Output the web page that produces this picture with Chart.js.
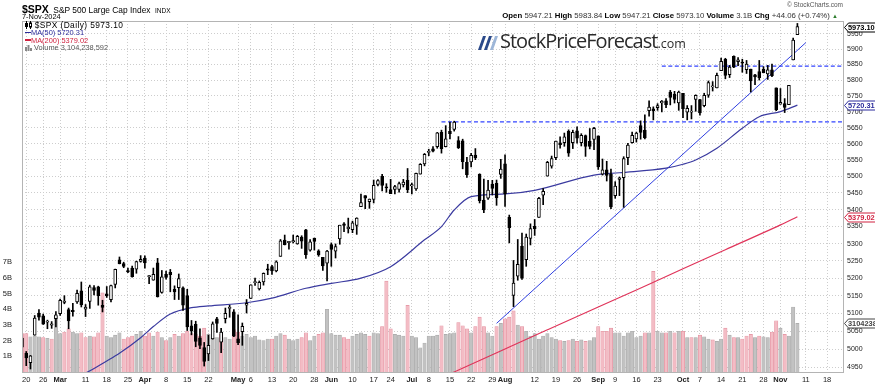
<!DOCTYPE html>
<html>
<head>
<meta charset="utf-8">
<title>$SPX S&amp;P 500 Large Cap Index</title>
<script src="https://cdn.jsdelivr.net/npm/chart.js@4/dist/chart.umd.min.js"></script>
<style>
html,body{margin:0;padding:0;background:#fff;overflow:hidden;}
#wrap{position:relative;width:875px;height:385px;font-family:"Liberation Sans",Arial,sans-serif;color:#000;}
#c{position:absolute;left:0;top:0;}
.t{position:absolute;white-space:nowrap;line-height:1;}
.t b{font-weight:bold;color:#000;}
</style>
</head>
<body>
<div id="wrap">
<canvas id="c" width="875" height="385"></canvas>
<div class="t" style="left:22px;top:0px;"><b style="font-size:10.5px">$SPX</b> <span style="font-size:8.4px">S&amp;P 500 Large Cap Index</span> <span style="font-size:6.5px">INDX</span></div>
<div class="t" style="left:22px;top:12.5px;font-size:7.4px">7-Nov-2024</div>
<div class="t" id="info" style="right:37px;top:11.5px;font-size:7.8px;color:#333"></div>
<div class="t" style="right:32px;top:1.5px;font-size:6.5px;color:#555">&copy; StockCharts.com</div>
<div class="t" id="lg1" style="left:25px;top:21px;font-size:8.4px;letter-spacing:0.4px"></div>
<div class="t" id="lg2" style="left:25px;top:29px;font-size:7.4px;color:#2b2b9b"></div>
<div class="t" id="lg3" style="left:25px;top:36.5px;font-size:7.4px;color:#d0213f"></div>
<div class="t" id="lg4" style="left:25px;top:44px;font-size:7.4px;color:#555"></div>
<div class="t" style="left:478px;top:31px;">
  <svg width="22" height="15" style="position:absolute;left:0;top:5px">
    <polygon points="0,14 3,14 8,0 5,0" fill="#2b4a8a"/>
    <polygon points="6,14 9,14 14,0 11,0" fill="#2b4a8a"/>
    <polygon points="12,14 15,14 20,0 17,0" fill="#9db6d8"/>
  </svg>
  <span style="position:absolute;left:22px;top:0;font-family:'Open Sans',sans-serif;font-size:20px;letter-spacing:-1px;color:#2a2a2a">StockPriceForecast<span style="font-size:12.5px;letter-spacing:0">.com</span></span>
</div>
</div>
<script>
// ---------- DATA ----------
const dates = [
'02-16','02-20','02-21','02-22','02-23','02-26','02-27','02-28','02-29',
'03-01','03-04','03-05','03-06','03-07','03-08','03-11','03-12','03-13','03-14','03-15','03-18','03-19','03-20','03-21','03-22','03-25','03-26','03-27','03-28',
'04-01','04-02','04-03','04-04','04-05','04-08','04-09','04-10','04-11','04-12','04-15','04-16','04-17','04-18','04-19','04-22','04-23','04-24','04-25','04-26','04-29','04-30',
'05-01','05-02','05-03','05-06','05-07','05-08','05-09','05-10','05-13','05-14','05-15','05-16','05-17','05-20','05-21','05-22','05-23','05-24','05-28','05-29','05-30','05-31',
'06-03','06-04','06-05','06-06','06-07','06-10','06-11','06-12','06-13','06-14','06-17','06-18','06-20','06-21','06-24','06-25','06-26','06-27','06-28',
'07-01','07-02','07-03','07-05','07-08','07-09','07-10','07-11','07-12','07-15','07-16','07-17','07-18','07-19','07-22','07-23','07-24','07-25','07-26','07-29','07-30','07-31',
'08-01','08-02','08-05','08-06','08-07','08-08','08-09','08-12','08-13','08-14','08-15','08-16','08-19','08-20','08-21','08-22','08-23','08-26','08-27','08-28','08-29','08-30',
'09-03','09-04','09-05','09-06','09-09','09-10','09-11','09-12','09-13','09-16','09-17','09-18','09-19','09-20','09-23','09-24','09-25','09-26','09-27','09-30',
'10-01','10-02','10-03','10-04','10-07','10-08','10-09','10-10','10-11','10-14','10-15','10-16','10-17','10-18','10-21','10-22','10-23','10-24','10-25','10-28','10-29','10-30','10-31',
'11-01','11-04','11-05','11-06','11-07',
'11-08','11-11','11-12','11-13','11-14','11-15','11-18','11-19','11-20','11-21','11-22'
];
const openP = [
5031,4989,4963,5039,5101,5093,5075,5067,5085,
5099,5131,5111,5108,5132,5164,5112,5134,5173,5175,5123,5155,5139,5182,5253,5242,5220,5229,5226,5248,
5258,5204,5194,5244,5159,5211,5217,5168,5173,5172,5150,5065,5069,5032,5005,4987,5029,5085,5020,5085,5114,5104,
5029,5049,5123,5142,5187,5169,5189,5225,5233,5221,5263,5310,5303,5305,5299,5319,5340,5281,5316,5279,5260,5243,
5297,5278,5314,5358,5344,5341,5353,5409,5442,5424,5431,5476,5500,5467,5460,5461,5461,5474,5488,
5471,5462,5507,5538,5573,5584,5591,5635,5591,5638,5644,5610,5609,5543,5544,5565,5506,5429,5434,5477,5479,5506,
5538,5377,5151,5206,5293,5253,5315,5351,5377,5443,5501,5531,5557,5603,5603,5638,5603,5640,5603,5625,5607,5613,
5624,5507,5520,5507,5442,5491,5496,5557,5603,5615,5656,5642,5703,5709,5712,5727,5734,5762,5755,5727,
5758,5698,5698,5738,5738,5719,5752,5778,5775,5830,5867,5817,5876,5859,5858,5833,5835,5817,5827,5834,5820,5833,5775,
5723,5725,5722,5865,5947.21
];
const highP = [
5039,4994,4983,5094,5111,5098,5081,5077,5105,
5140,5150,5115,5128,5166,5189,5125,5180,5179,5177,5137,5176,5180,5226,5261,5246,5229,5235,5249,5265,
5264,5208,5229,5257,5222,5220,5225,5178,5212,5175,5168,5080,5078,5057,5019,5039,5076,5089,5058,5115,5123,5111,
5096,5073,5139,5181,5200,5192,5215,5240,5237,5250,5312,5325,5305,5325,5324,5323,5342,5312,5316,5282,5260,5280,
5302,5299,5354,5362,5375,5366,5376,5447,5442,5432,5489,5490,5506,5478,5491,5473,5483,5491,5524,
5480,5510,5539,5570,5583,5591,5635,5642,5656,5667,5670,5622,5614,5558,5570,5585,5508,5492,5488,5488,5489,5552,
5566,5384,5251,5312,5331,5328,5358,5371,5437,5463,5546,5562,5608,5621,5633,5643,5642,5652,5631,5627,5647,5651,
5624,5553,5546,5522,5484,5498,5560,5601,5636,5636,5671,5690,5734,5715,5725,5735,5741,5767,5764,5765,
5758,5719,5719,5753,5739,5758,5797,5795,5822,5871,5870,5847,5878,5872,5867,5863,5835,5818,5863,5843,5847,5851,5775,
5773,5741,5783,5936,5983.84
];
const lowP = [
4999,4955,4946,5039,5081,5069,5057,5058,5062,
5094,5127,5057,5092,5128,5118,5091,5114,5152,5123,5104,5145,5132,5172,5241,5230,5216,5203,5214,5246,
5229,5184,5194,5146,5157,5197,5161,5139,5139,5108,5052,5040,5007,5002,4954,4969,5028,5047,4991,5073,5089,5035,
5013,5011,5101,5142,5179,5166,5180,5210,5211,5218,5263,5296,5284,5302,5298,5286,5257,5278,5281,5263,5222,5192,
5234,5258,5298,5335,5331,5332,5327,5409,5403,5404,5420,5471,5456,5452,5448,5447,5452,5468,5451,
5447,5458,5507,5532,5563,5575,5586,5571,5590,5615,5639,5585,5523,5497,5529,5551,5420,5391,5431,5444,5413,5494,
5410,5302,5119,5194,5196,5234,5296,5324,5377,5415,5501,5525,5551,5586,5592,5561,5585,5602,5593,5561,5584,5582,
5521,5504,5486,5403,5434,5442,5407,5536,5602,5605,5614,5615,5686,5674,5704,5699,5712,5721,5727,5704,
5681,5674,5677,5701,5689,5715,5745,5765,5775,5830,5804,5808,5840,5846,5825,5821,5762,5785,5800,5823,5802,5811,5703,
5723,5697,5722,5865,5947.21
];
const closeP = [
5006,4976,4982,5087,5089,5070,5078,5070,5096,
5137,5131,5079,5105,5157,5124,5118,5175,5165,5150,5117,5149,5179,5225,5242,5234,5218,5204,5248,5254,
5244,5206,5211,5147,5204,5202,5210,5161,5199,5123,5062,5051,5022,5011,4967,5011,5071,5072,5048,5100,5116,5036,
5018,5064,5128,5181,5188,5188,5214,5223,5221,5247,5308,5297,5303,5308,5321,5307,5268,5305,5306,5267,5235,5278,
5283,5291,5354,5353,5347,5361,5375,5421,5434,5432,5473,5487,5473,5465,5448,5469,5478,5483,5460,
5475,5509,5537,5567,5573,5577,5634,5585,5615,5631,5667,5588,5545,5505,5564,5556,5427,5399,5459,5464,5436,5522,
5447,5347,5186,5240,5200,5319,5344,5344,5434,5455,5543,5554,5608,5597,5621,5571,5635,5617,5626,5592,5592,5648,
5529,5520,5503,5408,5471,5496,5554,5596,5626,5633,5635,5618,5714,5703,5719,5733,5722,5745,5738,5762,
5709,5710,5700,5751,5696,5751,5792,5780,5815,5860,5815,5842,5841,5865,5854,5851,5797,5810,5808,5824,5833,5814,5705,
5729,5713,5783,5929.04,5973.10
];
const prevCloseBefore = 5030;   // close of the session before the first bar
// volume, billions of shares
const volumeB = [
2.45,2.45,2.25,2.3,2.25,2.2,2.15,2.1,3.55,
2.45,2.55,2.75,2.55,2.45,2.5,2.2,2.3,2.25,2.5,5.05,2.3,2.2,2.35,2.5,2.1,2.2,2.3,2.4,2.6,
2.3,2.5,2.3,2.55,2.2,2.0,2.2,2.4,2.3,2.45,2.6,2.45,2.4,2.3,2.8,2.4,2.2,2.2,2.4,2.2,2.1,2.7,
2.55,2.3,2.4,2.2,2.3,2.05,2.0,2.1,2.1,2.3,2.45,2.35,2.1,2.0,2.1,2.2,2.5,2.0,2.3,2.4,2.5,4.0,
2.45,2.35,2.35,2.2,2.1,2.3,2.4,2.5,2.4,2.3,2.5,2.45,2.9,5.8,2.75,2.4,2.35,2.3,4.25,
2.3,2.2,1.55,1.85,2.3,2.3,2.35,2.95,2.4,2.45,2.5,3.15,2.95,2.75,2.5,2.9,3.5,2.9,2.5,2.3,2.9,3.1,
3.4,3.5,3.9,3.0,2.9,2.6,2.3,2.45,2.1,2.3,2.45,2.2,2.1,2.0,1.95,2.0,2.1,1.95,2.05,1.95,2.0,2.2,
2.9,2.6,2.6,2.8,2.5,2.5,2.3,2.5,2.6,2.2,2.3,2.5,2.5,6.42,2.6,2.5,2.5,2.6,2.5,2.6,
2.6,2.2,2.2,2.2,2.35,2.25,2.1,2.05,1.95,2.1,2.8,2.35,2.2,2.2,2.1,2.3,2.4,2.2,2.3,2.25,2.2,2.55,3.27,
2.8,2.4,2.3,4.15,3.104238592
];
const lastVolume = 3104238592;
const ma50Dates = ['02-16','02-26','03-04','03-11','03-18','03-21','03-28','04-03','04-09','04-16','04-22','05-03','05-13','05-23','06-03','06-12','06-24','07-05','07-11','07-16','07-22','08-01','08-12','08-30','09-10','09-25','10-01','10-04','10-11','10-21','10-25','11-01','11-07'];
const ma50Vals  = [4855,4890,4915,4935,4968,4989,5032,5063,5098,5116,5121,5130,5143,5171,5185,5200,5233,5311,5350,5399,5439,5447,5458,5504,5511,5525,5537,5550,5586,5648,5684,5700,5720.31];
const ma200Dates = ['07-01','07-16','08-01','08-15','09-03','09-16','10-01','10-15','11-01','11-07'];
const ma200Vals  = [4887,4938,5001,5054,5118,5166,5227,5282,5355,5379.02];
const trendDates = ['07-30','11-11'];
const trendVals  = [5072,5921];
const levelLowDates = ['07-11','11-22'];
const levelLowVals  = [5668,5668];
const levelHighDates = ['09-24','11-22'];
const levelHighVals  = [5845,5845];
const priceTicks = [4950,5000,5050,5100,5150,5200,5250,5300,5350,5400,5450,5500,5550,5600,5650,5700,5750,5800,5850,5900,5950];
const volumeTicks = [1,2,3,4,5,6,7];
const tickDates = ['02-20','02-26','03-01','03-11','03-18','03-25','04-01','04-08','04-15','04-22','05-01','05-06','05-13','05-20','05-28','06-03','06-10','06-17','06-24','07-01','07-08','07-15','07-22','07-29','08-01','08-12','08-19','08-26','09-03','09-09','09-16','09-23','10-01','10-07','10-14','10-21','10-28','11-01','11-11','11-18'];
const tickTexts = ['20','26','Mar','11','18','25','Apr','8','15','22','May','6','13','20','28','Jun','10','17','24','Jul','8','15','22','29','Aug','12','19','26','Sep','9','16','23','Oct','7','14','21','28','Nov','11','18'];

// ---------- BUILD ----------
const n = closeP.length, last = n - 1;
const bodies = closeP.map((c,i)=>[openP[i], c]);
const wicks = closeP.map((c,i)=>[lowP[i], highP[i]]);
const bodyFill = closeP.map((c,i)=> c >= openP[i] ? '#ffffff' : '#000000');
const volFill = closeP.map((c,i)=> c < (i ? closeP[i-1] : prevCloseBefore) ? '#f3bcc5' : '#c2c2c2');
const volEdge = closeP.map((c,i)=> c < (i ? closeP[i-1] : prevCloseBefore) ? '#e3909e' : '#a9a9a9');
const pts = (ds, vs) => ds.map((d,i)=>({x:d, y:vs[i]}));

const fmt = v => v.toFixed(2);
const chg = closeP[last] - closeP[last-1];
document.getElementById('info').innerHTML =
  '<b>Open</b> '+fmt(openP[last])+' <b>High</b> '+fmt(highP[last])+' <b>Low</b> '+fmt(lowP[last])+
  ' <b>Close</b> '+fmt(closeP[last])+' <b>Volume</b> '+(volumeB[last]).toFixed(1)+'B <b>Chg</b> +'+fmt(chg)+
  ' (+'+(chg/closeP[last-1]*100).toFixed(2)+'%) <span style="color:#2d7d2d;font-size:6px">&#9650;</span>';
document.getElementById('lg1').innerHTML =
  '<svg width="7" height="8" style="vertical-align:-1px"><line x1="1.5" y1="0" x2="1.5" y2="8" stroke="#000"/><rect x="0" y="2" width="3" height="4" fill="#000"/><line x1="5.5" y1="0" x2="5.5" y2="8" stroke="#000"/><rect x="4.5" y="2" width="2" height="4" fill="#fff" stroke="#000" stroke-width="1"/></svg> $SPX (Daily) '+fmt(closeP[last]);
document.getElementById('lg2').innerHTML = '<span style="display:inline-block;width:6px;height:1.5px;background:#2b2b9b;vertical-align:2px"></span>MA(50) '+fmt(ma50Vals[ma50Vals.length-1]);
document.getElementById('lg3').innerHTML = '<span style="display:inline-block;width:6px;height:1.5px;background:#d0213f;vertical-align:2px"></span>MA(200) '+fmt(ma200Vals[ma200Vals.length-1]);
document.getElementById('lg4').innerHTML = '<svg width="7" height="7" style="vertical-align:-1px"><rect x="0" y="3" width="2" height="4" fill="#888"/><rect x="2.5" y="1" width="2" height="6" fill="#888"/><rect x="5" y="4" width="2" height="3" fill="#888"/></svg> Volume '+lastVolume.toLocaleString('en-US');

const tagPlugin = {
  id: 'tags',
  afterDraw(chart) {
    const ctx = chart.ctx, a = chart.chartArea;
    ctx.save();
    ctx.strokeStyle = '#b4b4b4'; ctx.lineWidth = 1;
    ctx.strokeRect(a.left + 0.5, a.top + 0.5, a.right - a.left - 1, a.bottom - a.top);
    const tag = (yc, text, col) => {
      const x0 = a.right + 0.5, h = 9, w = 31;
      ctx.beginPath();
      ctx.moveTo(x0, yc); ctx.lineTo(x0 + 4, yc - h/2); ctx.lineTo(x0 + w, yc - h/2);
      ctx.lineTo(x0 + w, yc + h/2); ctx.lineTo(x0 + 4, yc + h/2); ctx.closePath();
      ctx.fillStyle = '#fff'; ctx.fill(); ctx.strokeStyle = col; ctx.lineWidth = 1; ctx.stroke();
      ctx.fillStyle = col; ctx.font = 'bold 7.4px "Liberation Sans", Arial'; ctx.textBaseline = 'middle'; ctx.textAlign = 'left';
      ctx.fillText(text, x0 + 3.5, yc + 0.5);
    };
    const y = chart.scales.y, v = chart.scales.v;
    tag(Math.round(y.getPixelForValue(closeP[last])) + 0.5, fmt(closeP[last]), '#000');
    tag(Math.round(y.getPixelForValue(ma50Vals[ma50Vals.length-1])) + 0.5, fmt(ma50Vals[ma50Vals.length-1]), '#2b2b9b');
    tag(Math.round(y.getPixelForValue(ma200Vals[ma200Vals.length-1])) + 0.5, fmt(ma200Vals[ma200Vals.length-1]), '#d0213f');
    tag(Math.round(v.getPixelForValue(volumeB[last])) + 0.5, String(lastVolume).slice(0,7), '#444');
    ctx.restore();
  }
};

Chart.defaults.font.family = '"Liberation Sans", Arial, sans-serif';
Chart.defaults.color = '#222';

new Chart(document.getElementById('c'), {
  type: 'bar',
  data: {
    labels: dates,
    datasets: [
      {type:'bar', data: bodies, yAxisID:'y', grouped:false, barThickness:3, minBarLength:1.2,
       backgroundColor: bodyFill, borderColor:'#000', borderWidth:1, borderSkipped:false, order:1},
      {type:'bar', data: wicks, yAxisID:'y', grouped:false, barThickness:1, backgroundColor:'#000', borderWidth:0, order:2},
      {type:'line', data: pts(ma50Dates, ma50Vals), yAxisID:'y', borderColor:'#3b3ba0', borderWidth:1.2,
       pointRadius:0, cubicInterpolationMode:'monotone', order:3},
      {type:'line', data: pts(ma200Dates, ma200Vals), yAxisID:'y', borderColor:'#e0345a', borderWidth:1.2,
       pointRadius:0, cubicInterpolationMode:'monotone', order:3},
      {type:'line', data: pts(trendDates, trendVals), yAxisID:'y', borderColor:'#2f3fe0', borderWidth:1,
       pointRadius:0, order:3},
      {type:'line', data: pts(levelLowDates, levelLowVals), yAxisID:'y', borderColor:'#3344ff', borderWidth:1.2,
       borderDash:[4,2.5], pointRadius:0, order:3},
      {type:'line', data: pts(levelHighDates, levelHighVals), yAxisID:'y', borderColor:'#3344ff', borderWidth:1.2,
       borderDash:[4,2.5], pointRadius:0, order:3},
      {type:'bar', data: volumeB, yAxisID:'v', grouped:false, barThickness:3.4,
       backgroundColor: volFill, borderColor: volEdge, borderWidth:{left:0.6,right:0.6,top:0.6,bottom:0}, order:10}
    ]
  },
  options: {
    responsive:false, animation:false, events:[],
    layout:{padding:{top:21,left:0,right:0,bottom:0}},
    plugins:{legend:{display:false}, tooltip:{enabled:false}},
    scales:{
      x:{type:'category', offset:false,
         grid:{color:'#cdcdcd', drawTicks:false, offset:false},
         border:{display:false, dash:[1,2]},
         afterBuildTicks:(s)=>{ s.ticks = tickDates.map(d=>({value: dates.indexOf(d)})); },
         ticks:{autoSkip:false, maxRotation:0, minRotation:0, padding:3, color:'#222',
           callback:(val, i)=> tickTexts[i],
           font:(c)=>({size:7.5, weight: /[A-Za-z]/.test(tickTexts[c.index] || '') ? 'bold' : 'normal'})},
         afterFit:(s)=>{ s.height = 13; }},
      y:{type:'logarithmic', position:'right', min:4937.8, max:5991.9,
         grid:{color:'#cdcdcd', drawTicks:false},
         border:{display:false, dash:[1,2]},
         afterBuildTicks:(s)=>{ s.ticks = priceTicks.map(v=>({value:v})); },
         ticks:{callback:(v)=>String(v), font:{size:7}, color:'#222', padding:3},
         afterFit:(s)=>{ s.width = 31; }},
      v:{type:'linear', position:'left', min:0, max:22.4,
         grid:{display:false}, border:{display:false},
         afterBuildTicks:(s)=>{ s.ticks = volumeTicks.map(v=>({value:v})); },
         ticks:{callback:(v)=>v+'B', font:{size:7.5}, color:'#222', padding:2},
         afterFit:(s)=>{ s.width = 22; }}
    }
  },
  plugins:[tagPlugin]
});
</script>
</body>
</html>
